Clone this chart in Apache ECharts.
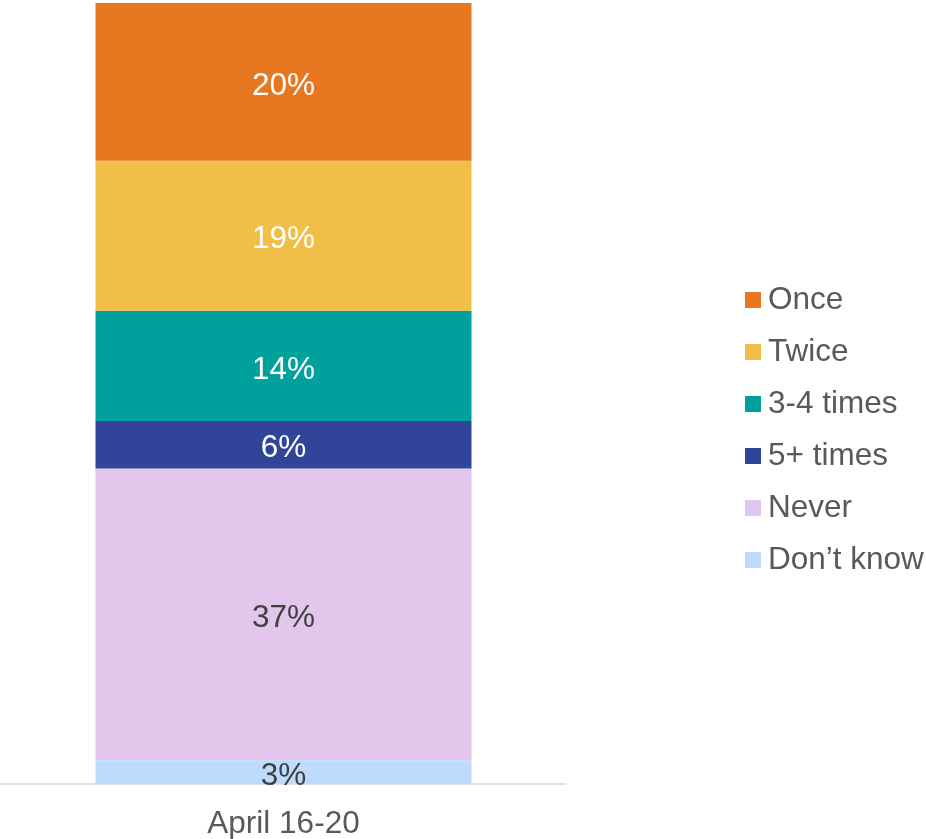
<!DOCTYPE html>
<html>
<head>
<meta charset="utf-8">
<script src="https://cdn.jsdelivr.net/npm/echarts@6/dist/echarts.min.js"></script>
<style>html,body{margin:0;padding:0;background:#fff}#c{width:926px;height:839px}</style>
</head>
<body>
<div id="c"></div>
<script>
const categories = ['April 16-20'];
const seriesNames = ['Don\u2019t know', 'Never', '5+ times', '3-4 times', 'Twice', 'Once'];
const dontKnow = [3];
const never = [37];
const fivePlus = [6];
const threeFour = [14];
const twice = [19];
const once = [20];
const legendOrder = ['Once', 'Twice', '3-4 times', '5+ times', 'Never', 'Don\u2019t know'];

const values = [dontKnow, never, fivePlus, threeFour, twice, once];
const colors = ['#BDDBFC', '#E2C6EC', '#30449A', '#00A09D', '#F1BE48', '#E87722'];
const labelColors = ['#404040', '#404040', '#ffffff', '#ffffff', '#ffffff', '#ffffff'];
const FONT = 'Liberation Sans, Arial, sans-serif';

const chart = echarts.init(document.getElementById('c'));
chart.setOption({
  animation: false,
  grid: { left: 1, right: 360, top: 3, bottom: 55, containLabel: false, outerBoundsMode: 'none' },
  legend: {
    orient: 'vertical',
    left: 745,
    top: 284,
    padding: 0,
    itemWidth: 16,
    itemHeight: 16,
    itemGap: 20,
    icon: 'rect',
    data: legendOrder,
    textStyle: { fontSize: 31.5, color: '#595959', fontFamily: FONT, padding: [0, 0, 0, 2], lineHeight: 31 }
  },
  xAxis: {
    type: 'category',
    data: categories,
    axisLine: { lineStyle: { color: '#D9D9D9', width: 1.5 } },
    axisTick: { show: false },
    axisLabel: { fontSize: 31.5, color: '#595959', fontFamily: FONT, margin: 24 }
  },
  yAxis: {
    type: 'value',
    min: 0,
    max: 99,
    show: false,
    splitLine: { show: false }
  },
  series: values.map((v, i) => ({
    name: seriesNames[i],
    type: 'bar',
    stack: 'total',
    data: v,
    barWidth: 376,
    itemStyle: { color: colors[i] },
    label: {
      show: true,
      position: 'inside',
      formatter: '{c}%',
      fontSize: 31.5,
      offset: [0, 4],
      color: labelColors[i],
      fontFamily: FONT
    }
  }))
});
</script>
</body>
</html>
